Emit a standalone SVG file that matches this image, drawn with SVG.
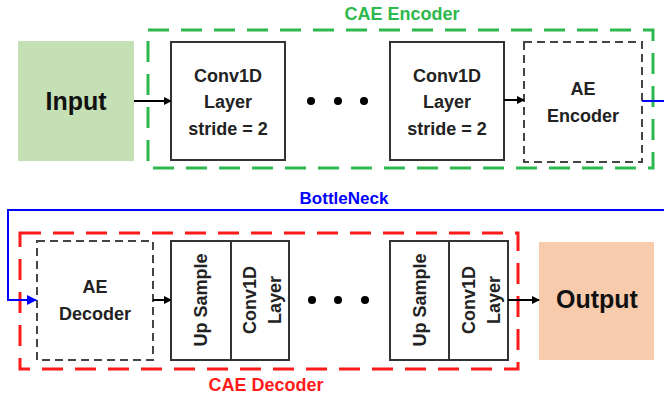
<svg xmlns="http://www.w3.org/2000/svg" width="664" height="401" viewBox="0 0 664 401">
<style>
text{font-family:"Liberation Sans",Arial,sans-serif;font-weight:bold;text-anchor:middle;fill:#222}
.t{font-size:18px}
.big{font-size:25px;fill:#111}
.box{fill:#fff;stroke:#333;stroke-width:2}
.dbox{fill:#fff;stroke:#444;stroke-width:2;stroke-dasharray:8,5}
.grp-g{fill:none;stroke:#2DB84D;stroke-width:3;stroke-dasharray:21,12}
.grp-r{fill:none;stroke:#FF1A1A;stroke-width:3;stroke-dasharray:21,12}
.dot{fill:#000}
.arr{fill:none;stroke:#000;stroke-width:2;marker-end:url(#ah)}
</style>
<defs>
<marker id="ah" markerWidth="8" markerHeight="8" refX="7" refY="4" orient="auto" markerUnits="userSpaceOnUse"><path d="M0,0 L8,4 L0,8 z" fill="#000"/></marker>
<marker id="ahb" markerWidth="10" markerHeight="10" refX="9" refY="5" orient="auto" markerUnits="userSpaceOnUse"><path d="M0,0 L10,5 L0,10 z" fill="#0000FF"/></marker>
</defs>
<rect width="664" height="401" fill="#fff"/>

<g id="cae-encoder">
<rect class="grp-g" x="148" y="30" width="505" height="138"/>
<text class="t" x="402" y="20" style="fill:#2DB84D">CAE Encoder</text>
</g>
<g id="cae-decoder">
<rect class="grp-r" x="20" y="233" width="498" height="136"/>
<text class="t" x="266" y="391" style="fill:#FF1A1A">CAE Decoder</text>
</g>

<g id="input">
<rect x="18" y="41" width="116" height="120" fill="#C5E0B4"/>
<text class="big" x="76" y="110">Input</text>
</g>

<g id="conv1">
<rect class="box" x="171" y="42" width="114" height="118"/>
<text class="t" x="228" y="82">Conv1D</text>
<text class="t" x="228" y="108">Layer</text>
<text class="t" x="228" y="135">stride = 2</text>
</g>

<g id="dots-top">
<circle class="dot" cx="311" cy="101" r="4"/>
<circle class="dot" cx="338" cy="101" r="4"/>
<circle class="dot" cx="364" cy="101" r="4"/>
</g>

<g id="conv2">
<rect class="box" x="390" y="42" width="114" height="118"/>
<text class="t" x="447" y="82">Conv1D</text>
<text class="t" x="447" y="108">Layer</text>
<text class="t" x="447" y="135">stride = 2</text>
</g>

<g id="ae-encoder">
<rect class="dbox" x="524" y="42" width="118" height="120"/>
<text class="t" x="583" y="95">AE</text>
<text class="t" x="583" y="122">Encoder</text>
</g>

<g id="ae-decoder">
<rect class="dbox" x="37" y="241" width="116" height="119"/>
<text class="t" x="95" y="293">AE</text>
<text class="t" x="95" y="320">Decoder</text>
</g>

<g id="up1">
<rect class="box" x="171" y="241" width="118" height="119"/>
<line x1="231" y1="241" x2="231" y2="360" stroke="#333" stroke-width="2"/>
<text class="t" transform="translate(207,300) rotate(-90)">Up Sample</text>
<text class="t" transform="translate(256,300) rotate(-90)">Conv1D</text>
<text class="t" transform="translate(281,300) rotate(-90)">Layer</text>
</g>

<g id="dots-bottom">
<circle class="dot" cx="312" cy="300" r="4"/>
<circle class="dot" cx="338" cy="300" r="4"/>
<circle class="dot" cx="365" cy="300" r="4"/>
</g>

<g id="up2">
<rect class="box" x="390" y="241" width="118" height="119"/>
<line x1="449" y1="241" x2="449" y2="360" stroke="#333" stroke-width="2"/>
<text class="t" transform="translate(426,300) rotate(-90)">Up Sample</text>
<text class="t" transform="translate(475,300) rotate(-90)">Conv1D</text>
<text class="t" transform="translate(500,300) rotate(-90)">Layer</text>
</g>

<g id="output">
<rect x="539" y="242" width="115" height="118" fill="#F8CBAD"/>
<text class="big" x="597" y="308">Output</text>
</g>

<g id="connectors">
<line class="arr" x1="134" y1="101" x2="171" y2="101"/>
<line class="arr" x1="504" y1="100" x2="524" y2="100"/>
<line class="arr" x1="153" y1="300" x2="171" y2="300"/>
<line class="arr" x1="508" y1="300" x2="539" y2="300"/>
<path d="M642,101 H672 V210 H8 V300 H36" fill="none" stroke="#0000FF" stroke-width="2" marker-end="url(#ahb)"/>
<text class="t" x="344" y="204" style="fill:#0000FF;font-size:17px">BottleNeck</text>
</g>
</svg>
